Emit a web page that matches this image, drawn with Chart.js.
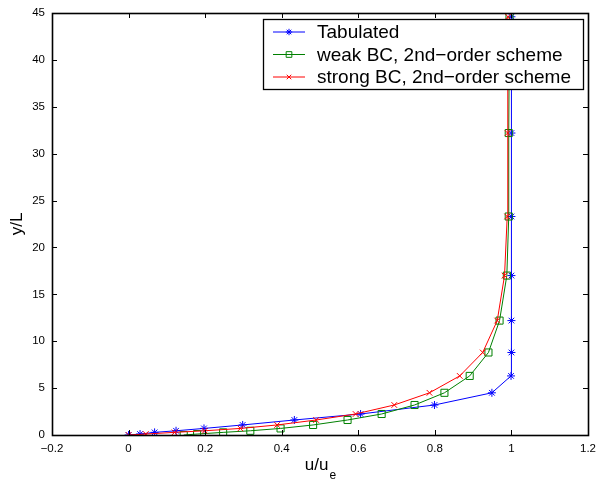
<!DOCTYPE html>
<html>
<head>
<meta charset="utf-8">
<script src="https://cdn.jsdelivr.net/npm/chart.js@4"></script>
<style>
    html, body { margin: 0; padding: 0; background: #fff; }
    #wrap { width: 599px; height: 483px; }
</style>
</head>
<body>
<div id="wrap"><canvas id="profileChart"></canvas></div>
<script>
// ===== Data =====
// wall-normal stations shared by all three profiles
const yL = [0, 0.1, 0.28, 0.45, 0.7, 1.07, 1.6, 2.24, 3.2, 4.5, 6.3, 8.8, 12.2, 17.0, 23.3, 32.2, 44.6];
const uTabulated = [0, 0.03, 0.068, 0.124, 0.197, 0.298, 0.433, 0.606, 0.799, 0.949, 0.999, 1.0, 1.0, 1.0, 1.0, 1.0, 1.0];
const uWeak = [0.144, 0.179, 0.247, 0.318, 0.397, 0.482, 0.572, 0.661, 0.747, 0.825, 0.891, 0.940, 0.969, 0.988, 0.993, 0.993, 0.995];
const uStrong = [0, 0.045, 0.12, 0.199, 0.292, 0.388, 0.49, 0.593, 0.694, 0.786, 0.865, 0.925, 0.963, 0.982, 0.989, 0.990, 0.991];
const seriesLabels = ['Tabulated', 'weak BC, 2nd\u2212order scheme', 'strong BC, 2nd\u2212order scheme'];
const xTicks = [-0.2, 0, 0.2, 0.4, 0.6, 0.8, 1, 1.2];
const yTicks = [0, 5, 10, 15, 20, 25, 30, 35, 40, 45];

const colors = {
    blue: '#0000FF',
    green: '#008000',
    red: '#FF0000',
    axis: '#000000'
};
const FONT = '"Liberation Sans", Arial, Helvetica, sans-serif';

const toPoints = (us) => us.map((u, i) => ({ x: u, y: yL[i] }));

// ===== MATLAB-style box, inward ticks, axis titles and legend =====
const matlabFrame = {
    id: 'matlabFrame',
    afterDatasetsDraw(chart) {
        const { ctx, chartArea: a, scales } = chart;
        const tick = 5;
        ctx.save();
        ctx.strokeStyle = colors.axis;
        ctx.lineWidth = 1;
        ctx.beginPath();
        xTicks.forEach(v => {
            const px = Math.round(scales.x.getPixelForValue(v)) + 0.5;
            ctx.moveTo(px, a.bottom); ctx.lineTo(px, a.bottom - tick);
            ctx.moveTo(px, a.top); ctx.lineTo(px, a.top + tick);
        });
        yTicks.forEach(v => {
            const py = Math.round(scales.y.getPixelForValue(v)) + 0.5;
            ctx.moveTo(a.left, py); ctx.lineTo(a.left + tick, py);
            ctx.moveTo(a.right, py); ctx.lineTo(a.right - tick, py);
        });
        ctx.stroke();
        ctx.lineWidth = 1.6;
        ctx.strokeRect(Math.round(a.left) + 0.5, Math.round(a.top) + 0.5,
            Math.round(a.right - a.left), Math.round(a.bottom - a.top));

        // axis titles
        ctx.fillStyle = '#000';
        ctx.textBaseline = 'alphabetic';
        ctx.font = '17px ' + FONT;
        const main = 'u/u';
        const wMain = ctx.measureText(main).width;
        ctx.font = '12px ' + FONT;
        const wSub = ctx.measureText('e').width;
        const cx = (a.left + a.right) / 2;
        const x0 = cx - (wMain + wSub) / 2;
        ctx.font = '17px ' + FONT;
        ctx.textAlign = 'left';
        ctx.fillText(main, x0, 470);
        ctx.font = '12px ' + FONT;
        ctx.fillText('e', x0 + wMain + 1, 479);

        ctx.save();
        ctx.translate(22, (a.top + a.bottom) / 2);
        ctx.rotate(-Math.PI / 2);
        ctx.textAlign = 'center';
        ctx.font = '17px ' + FONT;
        ctx.fillText('y/L', 0, 0);
        ctx.restore();

        // legend
        const box = { x: 263, y: 19, w: 320, h: 70 };
        ctx.fillStyle = '#fff';
        ctx.fillRect(box.x, box.y, box.w, box.h);
        ctx.lineWidth = 1.3;
        ctx.strokeStyle = '#000';
        ctx.strokeRect(box.x + 0.5, box.y + 0.5, box.w, box.h);
        ctx.font = '19px ' + FONT;
        ctx.textAlign = 'left';
        ctx.textBaseline = 'middle';
        chart.data.datasets.forEach((ds, i) => {
            const ry = box.y + 13 + i * 22.5;
            ctx.strokeStyle = ds.borderColor;
            ctx.lineWidth = 1;
            ctx.beginPath();
            ctx.moveTo(273, ry); ctx.lineTo(305, ry);
            ctx.stroke();
            ctx.fillStyle = 'rgba(0,0,0,0)';
            Chart.helpers.drawPoint(ctx, {
                pointStyle: ds.pointStyle,
                radius: ds.pointRadius * 0.8,
                rotation: 0,
                borderWidth: 1
            }, 289, ry);
            ctx.fillStyle = '#000';
            ctx.fillText(ds.label, 317, ry + 1);
        });
        ctx.restore();
    }
};

function lineSet(label, data, color, style, radius, order) {
    return {
        label,
        data,
        showLine: true,
        borderColor: color,
        backgroundColor: 'rgba(0,0,0,0)',
        borderWidth: 1,
        pointStyle: style,
        pointRadius: radius,
        pointBorderColor: color,
        pointBackgroundColor: 'rgba(0,0,0,0)',
        pointBorderWidth: 1,
        tension: 0,
        order
    };
}

document.addEventListener('DOMContentLoaded', () => {
    const ctx = document.getElementById('profileChart');
    new Chart(ctx, {
        type: 'scatter',
        data: {
            datasets: [
                lineSet(seriesLabels[0], toPoints(uTabulated), colors.blue, 'star', 4, 3),
                lineSet(seriesLabels[1], toPoints(uWeak), colors.green, 'rect', 5, 2),
                lineSet(seriesLabels[2], toPoints(uStrong), colors.red, 'crossRot', 4, 1)
            ]
        },
        options: {
            responsive: true,
            maintainAspectRatio: false,
            animation: false,
            events: [],
            layout: { padding: { top: 13, right: 11, left: 0, bottom: 0 } },
            plugins: {
                legend: { display: false },
                tooltip: { enabled: false }
            },
            scales: {
                x: {
                    type: 'linear',
                    min: -0.2,
                    max: 1.2,
                    afterFit: (s) => {
                        s.height = 48;
                        s.paddingLeft = 0;
                        s.paddingRight = 0;
                    },
                    afterBuildTicks: (s) => { s.ticks = xTicks.map(v => ({ value: v })); },
                    grid: { display: false, drawTicks: false },
                    border: { display: false },
                    ticks: {
                        padding: 7,
                        color: '#000',
                        font: { family: FONT, size: 11.5 },
                        callback: (v) => String(Math.round(v * 10) / 10).replace('-', '\u2212')
                    }
                },
                y: {
                    type: 'linear',
                    min: 0,
                    max: 45,
                    afterFit: (s) => {
                        s.width = 52;
                        s.paddingTop = 0;
                        s.paddingBottom = 0;
                    },
                    afterBuildTicks: (s) => { s.ticks = yTicks.map(v => ({ value: v })); },
                    grid: { display: false, drawTicks: false },
                    border: { display: false },
                    ticks: {
                        padding: 7,
                        color: '#000',
                        font: { family: FONT, size: 11.5 }
                    }
                }
            }
        },
        plugins: [matlabFrame]
    });
});
</script>
</body>
</html>
